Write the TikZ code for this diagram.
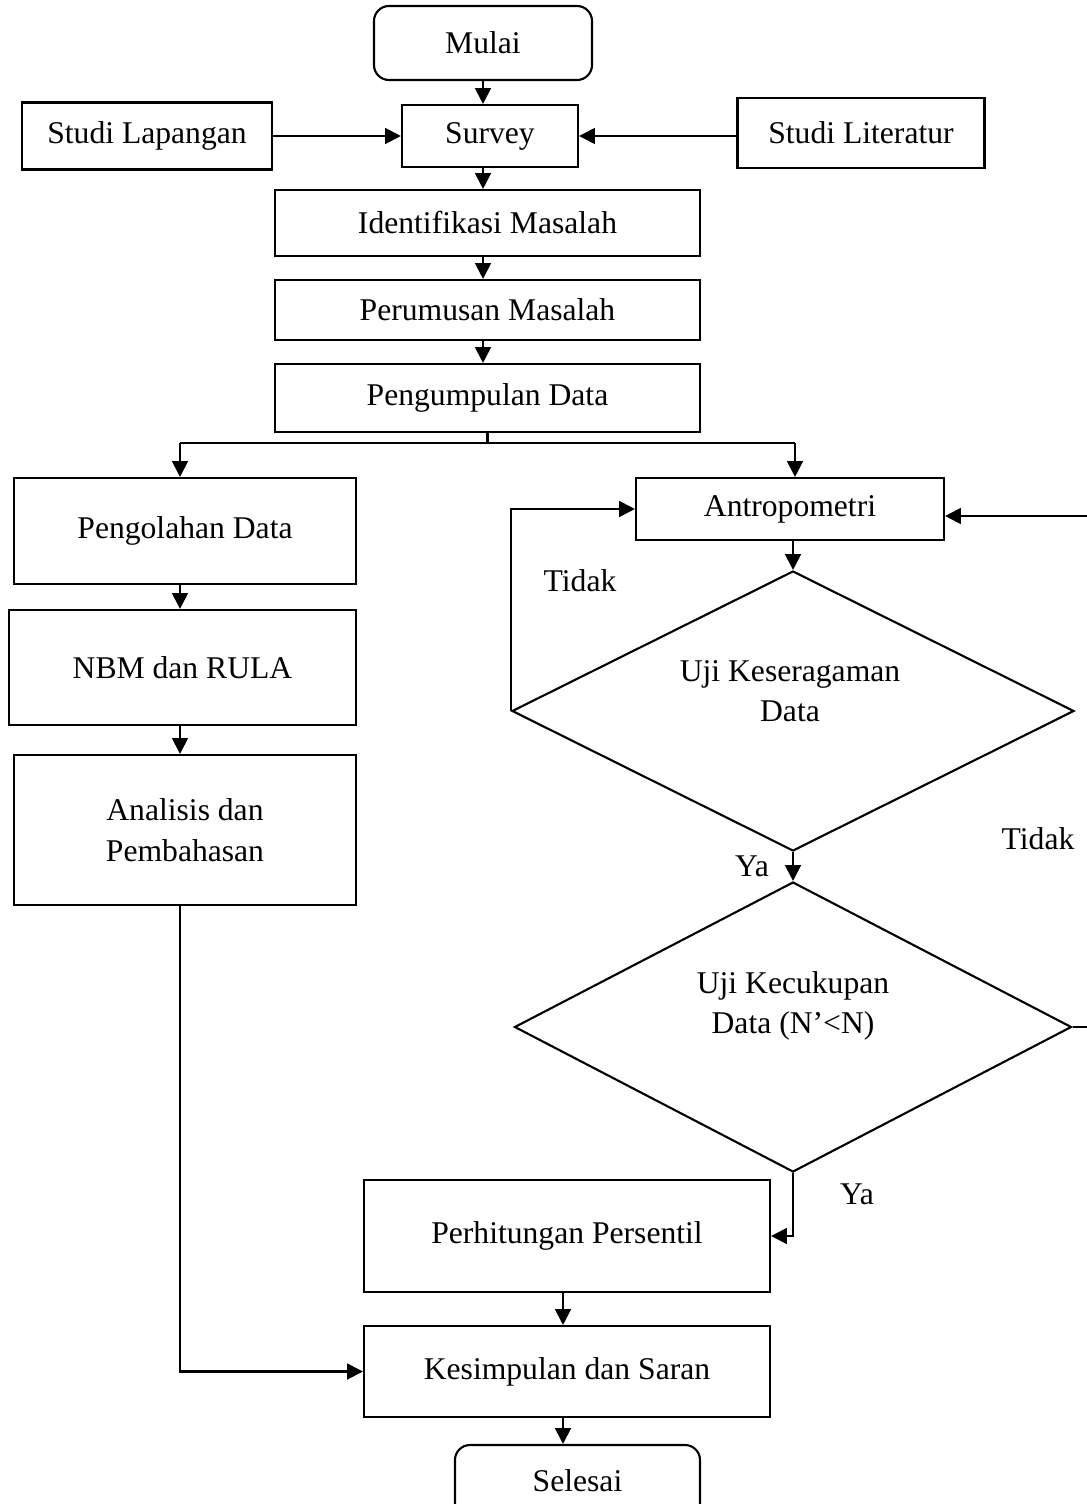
\documentclass[tikz,border=0pt]{standalone}
\usepackage{fontspec}
\setmainfont{Liberation Serif}
\usetikzlibrary{shapes.geometric,arrows.meta}
\begin{document}
\def\px{0.02cm}
\begin{tikzpicture}[x=0.02cm,y=-0.02cm,
  every node/.style={font=\fontsize{18pt}{23pt}\selectfont},
  box/.style={draw,line width=1.2pt,inner sep=0pt,align=center},
  term/.style={box,rounded corners=0.3cm},
  dec/.style={draw,line width=1.2pt,diamond,inner sep=0pt,aspect=2},
  lbl/.style={inner sep=0pt,align=center},
  arr/.style={line width=1.2pt,-{Triangle[length=9pt,width=9pt]}},
  ln/.style={line width=1.2pt}]
\useasboundingbox (0,0) rectangle (1086,1504);
% nodes
\node[term,minimum width=218*\px,minimum height=74*\px] (mulai) at (483,43) {Mulai};
\node[box,minimum width=176*\px,minimum height=62*\px] (survey) at (490,136) {Survey};
\node[box,minimum width=250*\px,minimum height=67*\px] (lap) at (147,136) {Studi Lapangan};
\node[box,minimum width=247*\px,minimum height=70*\px] (lit) at (861,133) {Studi Literatur};
\node[box,minimum width=425*\px,minimum height=66*\px] (iden) at (487.5,223) {Identifikasi Masalah};
\node[box,minimum width=425*\px,minimum height=60*\px] (rum) at (487.5,310) {Perumusan Masalah};
\node[box,minimum width=425*\px,minimum height=68*\px] (kump) at (487.5,398) {Pengumpulan Data};
\node[box,minimum width=342*\px,minimum height=106*\px] (olah) at (185,531) {Pengolahan Data};
\node[box,minimum width=347*\px,minimum height=115*\px] (nbm) at (182.5,667.5) {NBM dan RULA};
\node[box,minimum width=342*\px,minimum height=150*\px] (ana) at (185,830) {Analisis dan\\Pembahasan};
\node[box,minimum width=308*\px,minimum height=62*\px] (antro) at (790,509) {Antropometri};
\node[dec,minimum width=562*\px,minimum height=280*\px] (d1) at (793,711) {};
\node[lbl] (d1t) at (790,691) {Uji Keseragaman\\Data};
\node[dec,minimum width=557*\px,minimum height=290*\px] (d2) at (793,1027) {};
\node[lbl] (d2t) at (793,1006) {Uji Kecukupan\\Data (N’<N)};
\node[box,minimum width=406*\px,minimum height=112*\px] (perh) at (567,1236) {Perhitungan Persentil};
\node[box,minimum width=406*\px,minimum height=91*\px] (kes) at (567,1371.5) {Kesimpulan dan Saran};
\node[term,minimum width=245*\px,minimum height=86*\px,text depth=8pt] (sel) at (577.5,1488) {Selesai};
% labels
\node[lbl] (t1) at (580,581) {Tidak};
\node[lbl] (y1) at (752,866) {Ya};
\node[lbl] (t2) at (1038,839) {Tidak};
\node[lbl] (y2) at (857,1194) {Ya};
% coordinates
\coordinate (bL) at (180,443);
\coordinate (bR) at (795,443);
\coordinate (rc) at (1094,516);
\coordinate (ax) at (180,0);
\coordinate (mx) at (563,0);
% connectors
\draw[arr] (mulai.south) -- (mulai.south |- survey.north);
\draw[arr] (lap.east) -- (survey.west);
\draw[arr] (lit.west |- survey.east) -- (survey.east);
\draw[arr] (survey.south -| mulai.south) -- (iden.north -| mulai.south);
\draw[arr] (iden.south -| mulai.south) -- (rum.north -| mulai.south);
\draw[arr] (rum.south -| mulai.south) -- (kump.north -| mulai.south);
\draw[ln] (kump.south) -- (kump.south |- bL);
\draw[ln] (bL) -- (bR);
\draw[arr] (bL) -- (bL |- olah.north);
\draw[arr] (bR) -- (bR |- antro.north);
\draw[arr] (olah.south -| bL) -- (nbm.north -| bL);
\draw[arr] (nbm.south -| bL) -- (ana.north -| bL);
\draw[arr] (ana.south -| ax) |- (kes.west);
\draw[arr] (antro.south -| d1.north) -- (d1.north);
\draw[arr] (d1.west) |- (antro.west);
\draw[arr] (d1.south) -- (d2.north);
\draw[arr] (d2.east) -| (rc) -- (rc -| antro.east);
\draw[arr] (d2.south) |- (perh.east);
\draw[arr] (perh.south -| mx) -- (kes.north -| mx);
\draw[arr] (kes.south -| mx) -- (sel.north -| mx);
\end{tikzpicture}
\end{document}
